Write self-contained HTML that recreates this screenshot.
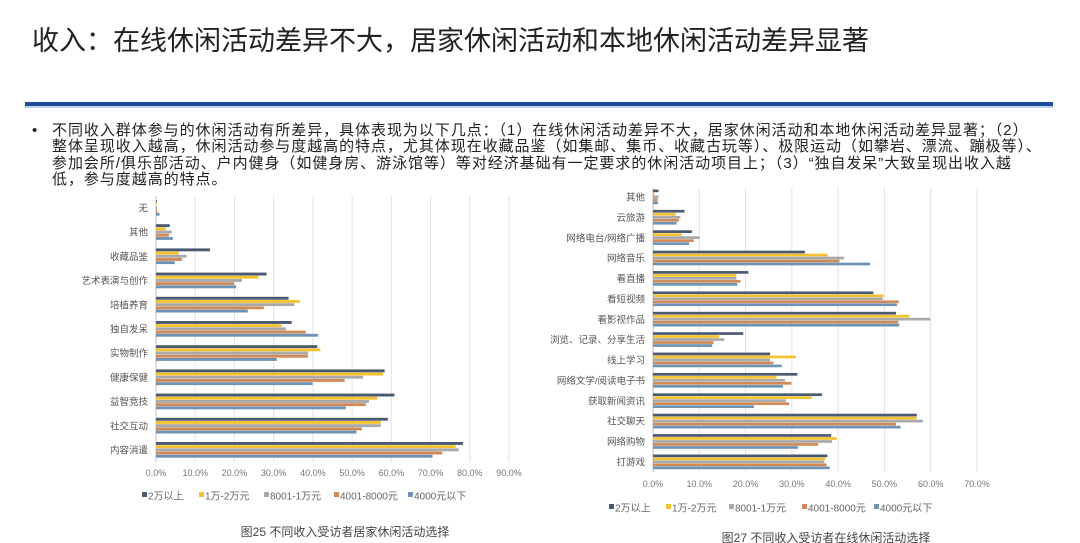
<!DOCTYPE html>
<html><head><meta charset="utf-8">
<style>
body{margin:0;width:1080px;height:543px;background:#fff;overflow:hidden;font-family:"Liberation Sans","Noto Sans CJK SC",sans-serif;position:relative}
.title{position:absolute;left:32px;top:19px;font-size:27px;color:#222;white-space:nowrap}
.rule{position:absolute;left:25px;top:102px;width:1028px;height:4px;background:#1f4e99;border-bottom:2px solid #bcd3ef}
.bullet{position:absolute;left:32px;top:123px;font-size:15px;line-height:16.3px;color:#222}
.bullet .txt{position:absolute;left:20px;top:0;width:1020px;white-space:nowrap;letter-spacing:0.95px}
svg{position:absolute;left:0;top:0}
</style></head><body>
<div class="title">收入：在线休闲活动差异不大，居家休闲活动和本地休闲活动差异显著</div>
<div class="rule"></div>
<div class="bullet"><span>•</span><div class="txt">不同收入群体参与的休闲活动有所差异，具体表现为以下几点：（1）在线休闲活动差异不大，居家休闲活动和本地休闲活动差异显著；（2）<br>整体呈现收入越高，休闲活动参与度越高的特点，尤其体现在收藏品鉴（如集邮、集币、收藏古玩等）、极限运动（如攀岩、漂流、蹦极等）、<br>参加会所/俱乐部活动、户内健身（如健身房、游泳馆等）等对经济基础有一定要求的休闲活动项目上；（3）“独自发呆”大致呈现出收入越<br>低，参与度越高的特点。</div></div>
<svg id="chart" width="1080" height="543"></svg>
<script>
const seriesNames=["2万以上","1万-2万元","8001-1万元","4001-8000元","4000元以下"];
const colors=["#4a5a72","#f2c230","#a9a9a9","#cf8a58","#6f93b6"];
const leftCats=["无","其他","收藏品鉴","艺术表演与创作","培植养育","独自发呆","实物制作","健康保健","益智竞技","社交互动","内容消遣"];
const leftS1=[0.2,3.5,13.8,28.2,33.8,34.6,41.1,58.3,60.8,59.1,78.3];
const leftS2=[0.1,2.5,5.8,26.1,36.7,32.0,41.9,57.9,56.4,57.3,76.4];
const leftS3=[0.3,4.0,7.8,21.9,35.3,33.1,38.8,52.8,54.3,57.3,77.2];
const leftS4=[0.3,3.3,6.6,19.9,27.5,38.2,38.7,48.1,53.5,52.5,73.0];
const leftS5=[0.9,4.3,4.8,20.4,23.4,41.3,30.8,39.9,48.4,51.1,70.5];
const leftTicks=["0.0%","10.0%","20.0%","30.0%","40.0%","50.0%","60.0%","70.0%","80.0%","90.0%"];
const rightCats=["其他","云旅游","网络电台/网络广播","网络音乐","看直播","看短视频","看影视作品","浏览、记录、分享生活","线上学习","网络文学/阅读电子书","获取新闻资讯","社交聊天","网络购物","打游戏"];
const rightS1=[1.2,6.8,8.4,32.8,20.6,47.6,52.5,19.5,25.3,31.2,36.5,57.0,38.5,37.7];
const rightS2=[0.3,4.9,6.2,37.7,18.0,49.8,55.4,14.3,30.9,26.7,34.3,56.9,39.7,37.2];
const rightS3=[1.2,5.9,10.1,41.3,18.0,49.6,59.9,15.4,25.3,28.5,28.7,58.3,38.7,37.0];
const rightS4=[1.0,5.6,8.8,40.3,18.9,53.1,53.0,13.1,26.0,29.9,29.4,52.5,35.7,37.5];
const rightS5=[1.1,5.1,7.8,46.9,18.2,52.7,53.2,12.8,27.8,28.1,21.8,53.5,31.3,38.2];
const rightTicks=["0.0%","10.0%","20.0%","30.0%","40.0%","50.0%","60.0%","70.0%"];

const NS="http://www.w3.org/2000/svg";
const svg=document.getElementById('chart');
function mk(tag,attrs,parent){const e=document.createElementNS(NS,tag);for(const k in attrs)e.setAttribute(k,attrs[k]);(parent||svg).appendChild(e);return e;}

function drawChart(cfg){
  const g=mk('g',{});
  
  
  const x=v=>cfg.x0+v/cfg.max*(cfg.x1-cfg.x0);
  const n=cfg.cats.length;
  const step=(cfg.yLast-cfg.yFirst)/(n-1);
  const y=i=>cfg.yFirst+i*step;
  cfg.ticks.forEach((t,i)=>{
    const v=i*10;
    const l=mk('line',{x1:x(v),x2:x(v),y1:cfg.gTop,y2:cfg.gBot,stroke:i==0?'#bfbfbf':'#e2e2e2','stroke-width':1},g);
    
    
    const tx=mk('text',{x:x(v),y:cfg.tickY,'font-size':9,fill:'#777','text-anchor':'middle'},g);
    tx.textContent=t;
    
    
  });
  const bh=cfg.bh;
  cfg.cats.forEach((c,i)=>{
    const cy=y(i);
    const lab=mk('text',{x:cfg.x0-8,y:cy+3.5,'font-size':9.5,fill:'#555','text-anchor':'end'},g);
    lab.textContent=c;
    
    
    cfg.series.forEach((s,k)=>{
      const r=mk('rect',{x:cfg.x0,y:cy-2.5*bh+k*bh,width:Math.max(0.5,x(s[i])-cfg.x0),height:bh-0.3,fill:colors[k]},g);
      
      
    });
  });
  let lx=cfg.legX;
  seriesNames.forEach((s,k)=>{
    const r=mk('rect',{x:lx,y:cfg.legY-4,width:5,height:5,fill:colors[k]},g);
    
    
    const t=mk('text',{x:lx+6,y:cfg.legY+3.5,'font-size':cfg.legFont,fill:'#666'},g);
    t.textContent=s;
    
    
    lx+=cfg.legGaps[k];
  });
  const cap=mk('text',{x:cfg.capX,y:cfg.capY,'font-size':cfg.capFont,fill:'#444','text-anchor':'middle'},g);
  cap.textContent=cfg.caption;
  
  
}
drawChart({name:'home-leisure-chart',cats:leftCats,series:[leftS1,leftS2,leftS3,leftS4,leftS5],ticks:leftTicks,max:90,
  x0:156,x1:509,yFirst:208,yLast:450,gTop:196,gBot:462,tickY:476,bh:3.2,
  legX:142,legY:496,legFont:10,legGaps:[57,65,70,74,60],capX:345,capY:536,capFont:12,caption:"图25 不同收入受访者居家休闲活动选择"});
drawChart({name:'online-leisure-chart',cats:rightCats,series:[rightS1,rightS2,rightS3,rightS4,rightS5],ticks:rightTicks,max:70,
  x0:653,x1:977,yFirst:197,yLast:462,gTop:188,gBot:472,tickY:487,bh:3.0,
  legX:609,legY:508,legFont:10,legGaps:[57,63,73,72,60],capX:826,capY:542,capFont:12,caption:"图27 不同收入受访者在线休闲活动选择"});
</script>
</body></html>
